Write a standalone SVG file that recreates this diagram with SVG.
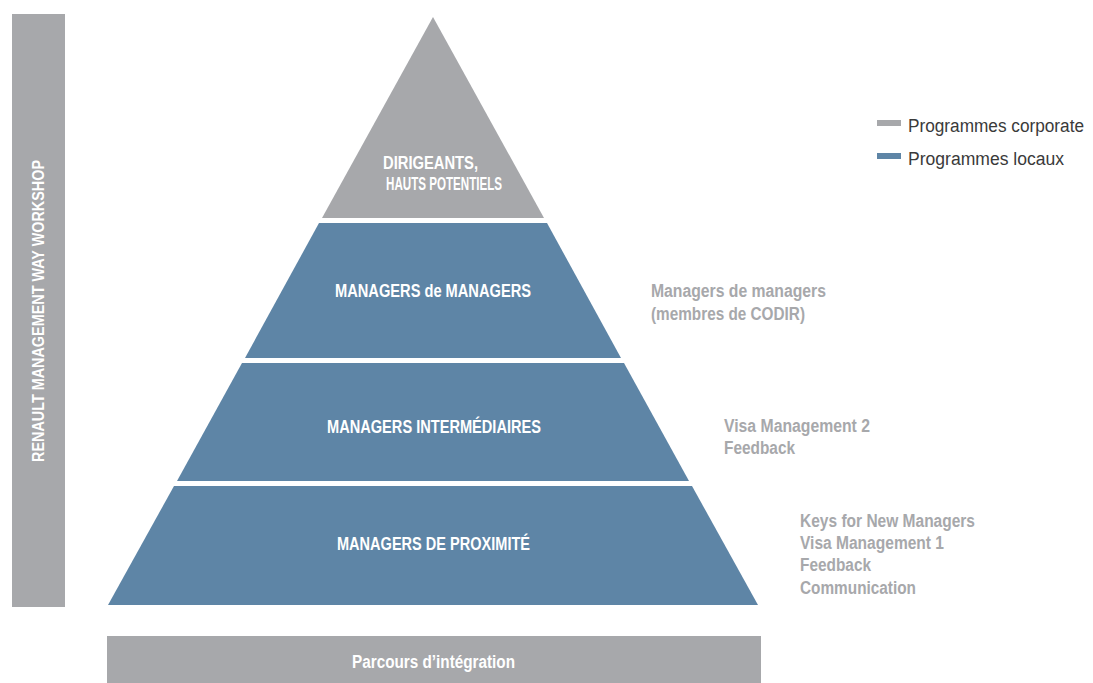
<svg xmlns="http://www.w3.org/2000/svg" width="1093" height="683" viewBox="0 0 1093 683">
<style>
.grey{fill:#A7A8AB}
.blue{fill:#5E85A6}
.lbl{font-family:"Liberation Sans",Arial,sans-serif;font-weight:bold;font-size:18px;fill:#FFFFFF}
.side{font-family:"Liberation Sans",Arial,sans-serif;font-weight:bold;font-size:18px;fill:#A7A8AB}
.leg{font-family:"Liberation Sans",Arial,sans-serif;font-size:18px;fill:#3A3A3A}
</style>
<rect width="1093" height="683" fill="#FFFFFF"/>
<g id="workshop-bar">
<rect class="grey" x="12" y="14" width="53" height="593"/>
<text class="lbl" transform="translate(44,311) rotate(-90)" text-anchor="middle" textLength="302" lengthAdjust="spacingAndGlyphs" style="font-size:16.5px">RENAULT MANAGEMENT WAY WORKSHOP</text>
</g>
<g id="dirigeants">
<polygon class="grey" points="433,17 544,218 322,218"/>
<text class="lbl" x="383" y="169" textLength="95" lengthAdjust="spacingAndGlyphs">DIRIGEANTS,</text>
<text class="lbl" x="386" y="190" textLength="116" lengthAdjust="spacingAndGlyphs">HAUTS POTENTIELS</text>
</g>
<g id="managers-de-managers">
<polygon class="blue" points="319,223 547,223 621,358 245,358"/>
<text class="lbl" x="335" y="297" textLength="196" lengthAdjust="spacingAndGlyphs">MANAGERS de MANAGERS</text>
</g>
<g id="managers-intermediaires">
<polygon class="blue" points="242,363 624,363 689,481 177,481"/>
<text class="lbl" x="327" y="433" textLength="214" lengthAdjust="spacingAndGlyphs">MANAGERS INTERMÉDIAIRES</text>
</g>
<g id="managers-proximite">
<polygon class="blue" points="174,486 692,486 758,605 108,605"/>
<text class="lbl" x="337" y="550" textLength="193" lengthAdjust="spacingAndGlyphs">MANAGERS DE PROXIMITÉ</text>
</g>
<g id="parcours">
<rect class="grey" x="107" y="636" width="654" height="47"/>
<text class="lbl" x="352" y="668" textLength="163" lengthAdjust="spacingAndGlyphs">Parcours d’intégration</text>
</g>
<g id="side-labels">
<text class="side" x="651" y="297" textLength="175" lengthAdjust="spacingAndGlyphs">Managers de managers</text>
<text class="side" x="651" y="320" textLength="154" lengthAdjust="spacingAndGlyphs">(membres de CODIR)</text>
<text class="side" x="724" y="432" textLength="146" lengthAdjust="spacingAndGlyphs">Visa Management 2</text>
<text class="side" x="724" y="454" textLength="71" lengthAdjust="spacingAndGlyphs">Feedback</text>
<text class="side" x="800" y="527" textLength="175" lengthAdjust="spacingAndGlyphs">Keys for New Managers</text>
<text class="side" x="800" y="549" textLength="144" lengthAdjust="spacingAndGlyphs">Visa Management 1</text>
<text class="side" x="800" y="571" textLength="71" lengthAdjust="spacingAndGlyphs">Feedback</text>
<text class="side" x="800" y="594" textLength="116" lengthAdjust="spacingAndGlyphs">Communication</text>
</g>
<g id="legend">
<rect class="grey" x="877" y="120" width="24" height="6"/>
<text class="leg" x="908" y="132" textLength="176" lengthAdjust="spacingAndGlyphs">Programmes corporate</text>
<rect class="blue" x="877" y="153" width="24" height="6"/>
<text class="leg" x="908" y="165" textLength="156" lengthAdjust="spacingAndGlyphs">Programmes locaux</text>
</g>
<g id="connectors"></g>
</svg>
